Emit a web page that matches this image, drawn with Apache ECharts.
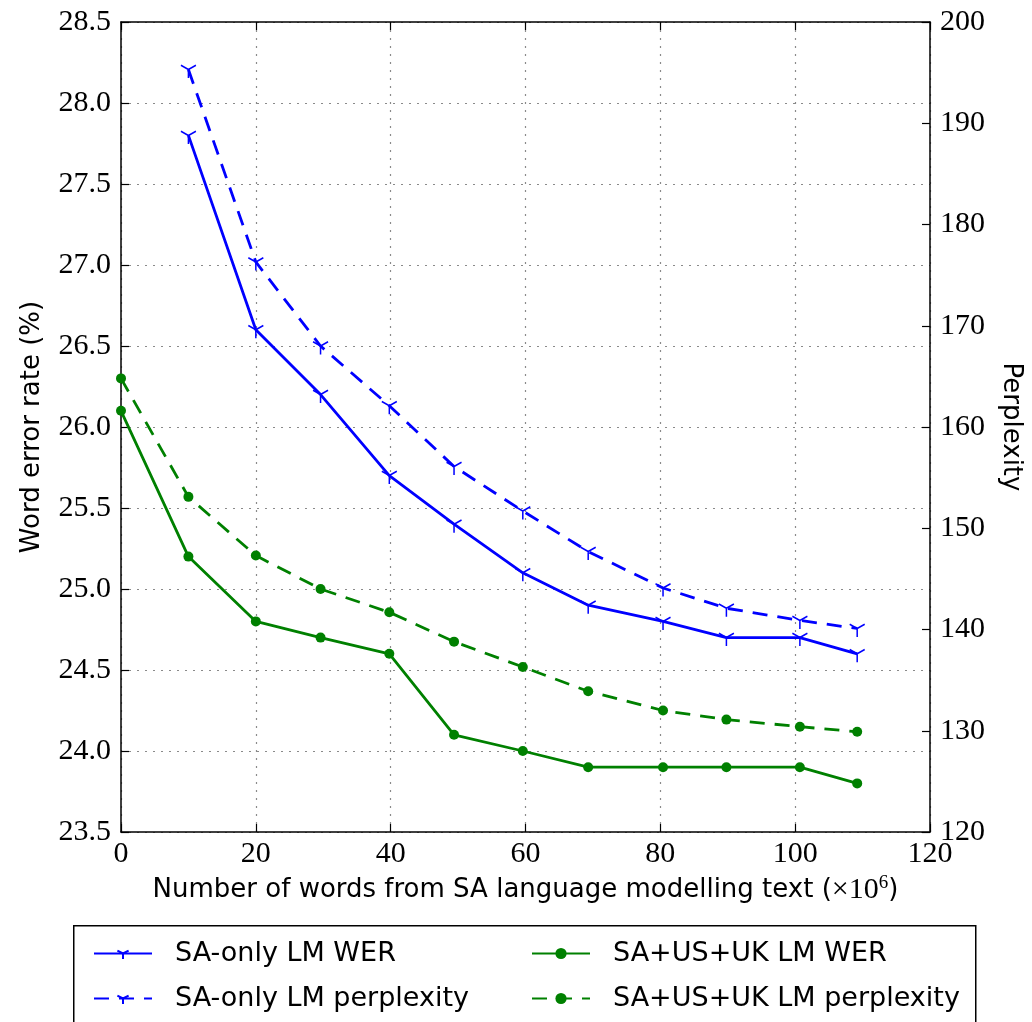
<!DOCTYPE html>
<html lang="en">
<head>
    <meta charset="UTF-8">
    <title>WER and perplexity</title>
    <script src="https://cdn.jsdelivr.net/npm/echarts@6/dist/echarts.min.js"></script>
</head>
<body style="margin:0;background:#fff;">

<div id="main" style="width: 1032px;height:1022px;"></div>
<script>
    // words of SA text (x 10^6)
    var xGreen = [0, 10, 20, 29.6, 39.8, 49.4, 59.6, 69.3, 80.4, 89.8, 100.7, 109.2];
    var xBlue = [10, 20, 29.6, 39.8, 49.4, 59.6, 69.3, 80.4, 89.8, 100.7, 109.2];

    var saWer = [27.8, 26.6, 26.2, 25.7, 25.4, 25.1, 24.9, 24.8, 24.7, 24.7, 24.6];
    var saPpl = [195.3, 176.3, 168.0, 162.1, 156.1, 151.7, 147.7, 144.1, 142.1, 140.9, 140.1];
    var allWer = [26.1, 25.2, 24.8, 24.7, 24.6, 24.1, 24.0, 23.9, 23.9, 23.9, 23.9, 23.8];
    var allPpl = [164.8, 153.1, 147.3, 144.0, 141.7, 138.8, 136.3, 133.9, 132.0, 131.1, 130.4, 129.9];

    var names = ['SA-only LM WER', 'SA-only LM perplexity', 'SA+US+UK LM WER', 'SA+US+UK LM perplexity'];

    function pairs(xs, ys) {
        return ys.map(function (v, i) { return [xs[i], v]; });
    }

    var triDown = 'path://M10,0L10,0.01M10,10L10,20M10,10L1.34,5M10,10L18.66,5';
    var serif = 'Liberation Serif';
    var sans = 'DejaVu Sans';
    var gridDots = {show: true, lineStyle: {color: '#8a8a8a', type: [2, 6], width: 1.2}};
    var blackLine = {onZero: false, show: true, lineStyle: {color: '#000', width: 1.5}};
    var inTick = {show: true, inside: true, length: 8, lineStyle: {color: '#000', width: 1.2}};

    var myChart = echarts.init(document.getElementById('main'));

    myChart.setOption({
        animation: false,
        grid: {left: 121, right: 100, top: 22, bottom: 190},
        xAxis: [
            {
                type: 'value', min: 0, max: 120, interval: 20, position: 'bottom',
                axisLine: blackLine,
                axisTick: inTick,
                axisLabel: {color: '#000', fontFamily: serif, fontSize: 30, margin: 7},
                splitLine: gridDots,
                name: 'Number of words from SA language modelling text ({m|×10}{s|6})',
                nameLocation: 'middle',
                nameGap: 36,
                nameTextStyle: {
                    color: '#000', fontFamily: sans, fontSize: 26,
                    rich: {
                        m: {fontFamily: serif, fontSize: 30, color: '#000'},
                        s: {fontFamily: serif, fontSize: 19, color: '#000', verticalAlign: 'top', padding: [0, 0, 14, 0]}
                    }
                }
            },
            {
                type: 'value', min: 0, max: 120, interval: 20, position: 'top',
                axisLine: blackLine,
                axisTick: inTick,
                axisLabel: {show: false},
                splitLine: {show: false}
            }
        ],
        yAxis: [
            {
                type: 'value', min: 23.5, max: 28.5, interval: 0.5, position: 'left',
                axisLine: blackLine,
                axisTick: inTick,
                axisLabel: {
                    color: '#000', fontFamily: serif, fontSize: 30, margin: 10,
                    formatter: function (v) { return v.toFixed(1); }
                },
                splitLine: gridDots,
                name: 'Word error rate (%)',
                nameLocation: 'middle',
                nameGap: 76,
                nameTextStyle: {color: '#000', fontFamily: sans, fontSize: 26}
            },
            {
                type: 'value', min: 120, max: 200, interval: 10, position: 'right',
                axisLine: blackLine,
                axisTick: inTick,
                axisLabel: {color: '#000', fontFamily: serif, fontSize: 30, margin: 10},
                splitLine: {show: false},
                name: 'Perplexity',
                nameLocation: 'middle',
                nameRotate: -90,
                nameGap: 68,
                nameTextStyle: {color: '#000', fontFamily: sans, fontSize: 26}
            }
        ],
        legend: [
            {
                orient: 'vertical', left: 88, top: 935, itemGap: 18,
                itemWidth: 58, itemHeight: 14,
                textStyle: {color: '#000', fontFamily: sans, fontSize: 27, padding: [0, 0, 0, 18]},
                data: [names[0], names[1]]
            },
            {
                orient: 'vertical', left: 526, top: 935, itemGap: 18,
                itemWidth: 58, itemHeight: 14,
                textStyle: {color: '#000', fontFamily: sans, fontSize: 27, padding: [0, 0, 0, 18]},
                data: [names[2], names[3]]
            }
        ],
        graphic: [
            {
                type: 'rect', left: 73, top: 925, z: -1,
                shape: {width: 902, height: 110},
                style: {fill: '#fff', stroke: '#000', lineWidth: 1.5}
            }
        ],
        series: [
            {
                name: names[0], type: 'line', yAxisIndex: 0,
                data: pairs(xBlue, saWer),
                symbol: triDown, symbolSize: [15, 17],
                lineStyle: {color: '#0000ff', width: 2.8},
                itemStyle: {color: '#0000ff', borderColor: '#0000ff', borderWidth: 1.6}
            },
            {
                name: names[1], type: 'line', yAxisIndex: 1,
                data: pairs(xBlue, saPpl),
                symbol: triDown, symbolSize: [15, 17],
                lineStyle: {color: '#0000ff', width: 2.8, type: [15, 10]},
                itemStyle: {color: '#0000ff', borderColor: '#0000ff', borderWidth: 1.6}
            },
            {
                name: names[2], type: 'line', yAxisIndex: 0,
                data: pairs(xGreen, allWer),
                symbol: 'circle', symbolSize: 10,
                lineStyle: {color: '#008000', width: 2.8},
                itemStyle: {color: '#008000', borderWidth: 0}
            },
            {
                name: names[3], type: 'line', yAxisIndex: 1,
                data: pairs(xGreen, allPpl),
                symbol: 'circle', symbolSize: 10,
                lineStyle: {color: '#008000', width: 2.8, type: [15, 10]},
                itemStyle: {color: '#008000', borderWidth: 0}
            }
        ]
    });
</script>
</body>
</html>
